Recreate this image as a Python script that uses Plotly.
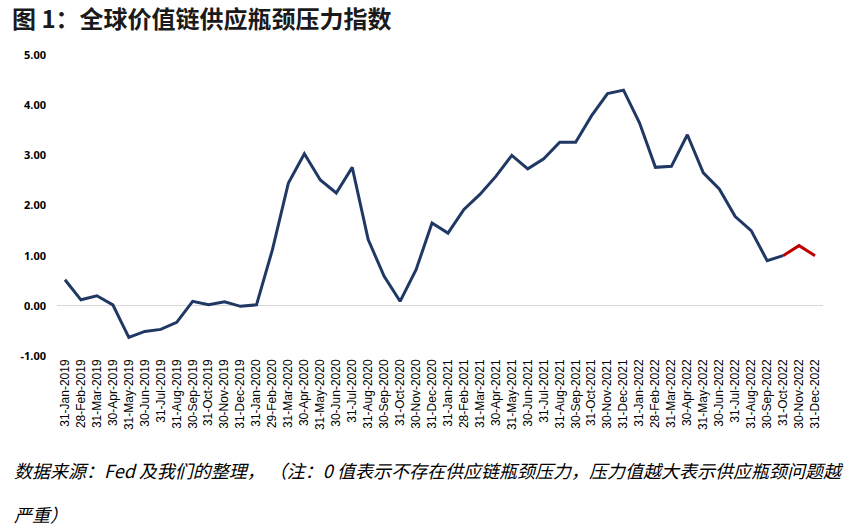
import plotly.graph_objects as go

dates = [
    "31-Jan-2019", "28-Feb-2019", "31-Mar-2019", "30-Apr-2019", "31-May-2019", "30-Jun-2019",
    "31-Jul-2019", "31-Aug-2019", "30-Sep-2019", "31-Oct-2019", "30-Nov-2019", "31-Dec-2019",
    "31-Jan-2020", "29-Feb-2020", "31-Mar-2020", "30-Apr-2020", "31-May-2020", "30-Jun-2020",
    "31-Jul-2020", "31-Aug-2020", "30-Sep-2020", "31-Oct-2020", "30-Nov-2020", "31-Dec-2020",
    "31-Jan-2021", "28-Feb-2021", "31-Mar-2021", "30-Apr-2021", "31-May-2021", "30-Jun-2021",
    "31-Jul-2021", "31-Aug-2021", "30-Sep-2021", "31-Oct-2021", "30-Nov-2021", "31-Dec-2021",
    "31-Jan-2022", "28-Feb-2022", "31-Mar-2022", "30-Apr-2022", "31-May-2022", "30-Jun-2022",
    "31-Jul-2022", "31-Aug-2022", "30-Sep-2022", "31-Oct-2022", "30-Nov-2022", "31-Dec-2022",
]
gscpi = [
    0.52, 0.12, 0.20, 0.02, -0.63, -0.51, -0.47, -0.33, 0.09, 0.02, 0.08, -0.01,
    0.02, 1.12, 2.45, 3.03, 2.51, 2.25, 2.76, 1.32, 0.59, 0.09, 0.72, 1.65,
    1.45, 1.92, 2.22, 2.58, 3.00, 2.73, 2.93, 3.26, 3.26, 3.79, 4.23, 4.30,
    3.65, 2.76, 2.78, 3.41, 2.65, 2.33, 1.78, 1.50, 0.90, 1.00, 1.20, 1.00,
]
highlight_start = "31-Oct-2022"
k = dates.index(highlight_start)

y_ticks = [-1, 0, 1, 2, 3, 4, 5]
y_tick_text = ["-1.00", "0.00", "1.00", "2.00", "3.00", "4.00", "5.00"]

title_text = "图 1：全球价值链供应瓶颈压力指数"
note_line1 = "数据来源：Fed 及我们的整理， （注：0 值表示不存在供应链瓶颈压力，压力值越大表示供应瓶颈问题越"
note_line2 = "严重）"

fig = go.Figure()
fig.add_trace(go.Scatter(
    x=dates[:k + 1], y=gscpi[:k + 1], mode="lines",
    line=dict(color="#203864", width=3), showlegend=False,
))
fig.add_trace(go.Scatter(
    x=dates[k:], y=gscpi[k:], mode="lines",
    line=dict(color="#C00000", width=3), showlegend=False,
))

W, H = 845, 532
L, R, T, B = 57, 22, 55, 176
pw, ph = W - L - R, H - T - B


def px(x):
    return (x - L) / pw


def py(y):
    return (H - B - y) / ph


fig.update_layout(
    width=W, height=H,
    margin=dict(l=L, r=R, t=T, b=B),
    paper_bgcolor="white", plot_bgcolor="white",
    title=dict(
        text="<b>" + title_text + "</b>",
        font=dict(family="Noto Sans CJK SC", size=24, color="#1a1a1a"),
        xref="container", yref="container",
        x=12 / W, xanchor="left", y=1 - 20 / H, yanchor="middle",
    ),
    xaxis=dict(
        type="category", categoryorder="array", categoryarray=dates,
        range=[-0.5, len(dates) - 0.5],
        tickangle=-90, showgrid=False, showline=False, zeroline=False,
        ticks="", tickfont=dict(family="Liberation Sans", size=12, color="#000000"),
    ),
    yaxis=dict(
        range=[-1, 5], tickvals=y_ticks, ticktext=y_tick_text,
        showgrid=False, showline=False,
        zeroline=True, zerolinecolor="#d9d9d9", zerolinewidth=1,
        ticks="", ticklabelstandoff=10,
        tickfont=dict(family="Noto Sans", size=11, color="#000000", weight="bold"),
    ),
    annotations=[
        dict(text="<i>" + note_line1 + "</i>", xref="paper", yref="paper",
             x=px(12), y=py(470), xanchor="left", yanchor="middle", showarrow=False,
             font=dict(family="Noto Sans CJK SC", size=18, color="#000000")),
        dict(text="<i>" + note_line2 + "</i>", xref="paper", yref="paper",
             x=px(12), y=py(514), xanchor="left", yanchor="middle", showarrow=False,
             font=dict(family="Noto Sans CJK SC", size=18, color="#000000")),
    ],
)

fig.write_html(
    "out.html",
    config={"displayModeBar": False},
    post_script="document.body.style.margin='0';document.body.style.overflow='hidden';",
)
